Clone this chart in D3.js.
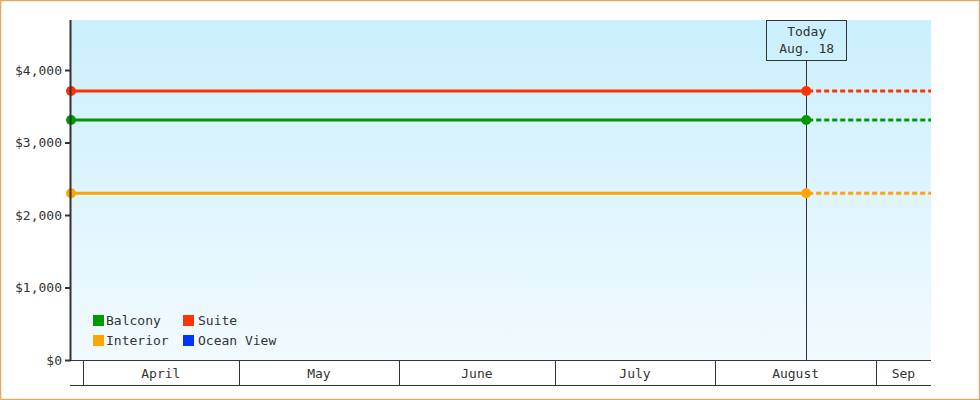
<!DOCTYPE html>
<html><head><meta charset="utf-8">
<script src="https://cdn.jsdelivr.net/npm/d3@7"></script>
<style>
html,body{margin:0;padding:0;background:#fff;}
svg{display:block;}
text{font-family:"DejaVu Sans Mono","Liberation Mono",monospace;font-size:13px;fill:#333;}
</style></head><body>
<svg id="chart" width="980" height="400"></svg>
<script>
// ---- data ----
const seriesNames = ["Balcony", "Suite", "Interior", "Ocean View"];
const seriesColors = ["#009900", "#ff3300", "#ffa500", "#0033ff"];
const seriesValues = [3310, 3710, 2300, null]; // price, constant over period
const startDate = "2010-03-29T16:00";
const todayDate = "2010-08-18T13:00";
const endDate = "2010-09-11T15:00";
const todayLabel = ["Today", "Aug. 18"];
const monthNames = ["April", "May", "June", "July", "August", "Sep"];
const monthStarts = ["2010-04-01", "2010-05-01", "2010-06-01", "2010-07-01", "2010-08-01", "2010-09-01"];
const yTicks = [0, 1000, 2000, 3000, 4000];
const yMax = 4690;

// ---- layout ----
const svg = d3.select("#chart");
const W = 980, H = 400;
const pL = 71, pR = 931, pT = 20, pB = 360;
const parse = d3.isoParse;

const x = d3.scaleTime().domain([parse(startDate), parse(endDate)]).range([pL, pR]);
const y = d3.scaleLinear().domain([0, yMax]).range([pB, pT]);

// border
svg.append("rect").attr("x", 0.5).attr("y", 0.5).attr("width", W - 1).attr("height", H - 1)
  .attr("fill", "#fff").attr("stroke", "#e8a860").attr("stroke-width", 1.5);

// gradient background
const defs = svg.append("defs");
const grad = defs.append("linearGradient").attr("id", "bg").attr("x1", 0).attr("y1", 0).attr("x2", 0).attr("y2", 1);
grad.append("stop").attr("offset", "0%").attr("stop-color", "#caeffd");
grad.append("stop").attr("offset", "100%").attr("stop-color", "#f2faff");
svg.append("rect").attr("x", pL).attr("y", pT).attr("width", pR - pL).attr("height", pB - pT)
  .attr("fill", "url(#bg)");

// y axis
const yAxis = d3.axisLeft(y).tickValues(yTicks).tickSize(6).tickPadding(3)
  .tickFormat(d => "$" + d3.format(",")(d));
const gy = svg.append("g").attr("transform", `translate(${pL},0)`).call(yAxis);
gy.select(".domain").remove();
gy.attr("font-family", null).attr("font-size", null);
gy.selectAll(".tick line").attr("stroke", "#333").attr("stroke-width", 2);
gy.selectAll(".tick text").attr("fill", "#333");

// x axis: month boxes
const xg = svg.append("g");
xg.append("line").attr("x1", pL - 1).attr("x2", pR).attr("y1", pB + 0.5).attr("y2", pB + 0.5)
  .attr("stroke", "#333").attr("stroke-width", 1);
xg.append("line").attr("x1", pL - 1).attr("x2", pR).attr("y1", 385.5).attr("y2", 385.5)
  .attr("stroke", "#333").attr("stroke-width", 1);
const monthData = monthStarts.map((s, i) => {
  const a = x(parse(s));
  const b = i < monthStarts.length - 1 ? x(parse(monthStarts[i + 1])) : pR;
  return { name: monthNames[i], a: a, b: Math.min(b, pR) };
});
xg.selectAll("line.div").data(monthData).join("line").attr("class", "div")
  .attr("x1", d => Math.round(d.a) + 0.5).attr("x2", d => Math.round(d.a) + 0.5)
  .attr("y1", pB).attr("y2", 385).attr("stroke", "#333");
xg.selectAll("text.m").data(monthData).join("text").attr("class", "m")
  .attr("x", d => (d.a + d.b) / 2).attr("y", 378).attr("text-anchor", "middle").text(d => d.name);

// today line
const tx = x(parse(todayDate));
svg.append("line").attr("x1", Math.round(tx) + 0.5).attr("x2", Math.round(tx) + 0.5)
  .attr("y1", 60).attr("y2", pB).attr("stroke", "#333").attr("stroke-width", 1);
svg.append("rect").attr("x", Math.round(tx) - 39.5).attr("y", 20.5).attr("width", 80).attr("height", 40)
  .attr("fill", "none").attr("stroke", "#333").attr("stroke-width", 1);
svg.selectAll("text.today").data(todayLabel).join("text").attr("class", "today")
  .attr("x", tx + 0.5).attr("y", (d, i) => 36 + i * 17).attr("text-anchor", "middle").text(d => d);

// series
const series = seriesNames.map((n, i) => ({ name: n, color: seriesColors[i], value: seriesValues[i] }))
  .filter(s => s.value !== null);
const lineGen = d3.line().x(d => x(d[0])).y(d => y(d[1]));
series.forEach(s => {
  const solid = [[parse(startDate), s.value], [parse(todayDate), s.value]];
  const dashed = [[parse(todayDate), s.value], [parse(endDate), s.value]];
  svg.append("path").datum(dashed).attr("d", lineGen).attr("fill", "none")
    .attr("stroke", s.color).attr("stroke-width", 3).attr("stroke-dasharray", "5,3")
    .attr("stroke-dashoffset", -2);
  svg.append("path").datum(solid).attr("d", lineGen).attr("fill", "none")
    .attr("stroke", s.color).attr("stroke-width", 3);
  svg.selectAll(null).data(solid).join("circle")
    .attr("cx", d => x(d[0])).attr("cy", d => y(d[1])).attr("r", 5).attr("fill", s.color);
});

// y axis line
svg.append("line").attr("x1", pL - 0.5).attr("x2", pL - 0.5).attr("y1", pT).attr("y2", pB + 1)
  .attr("stroke", "#333").attr("stroke-width", 2);

// legend
const legendPos = [[93, 315, 13], [183, 315, 15], [93, 335, 13], [183, 335, 15]];
const lg = svg.append("g");
seriesNames.forEach((n, i) => {
  const [lx, ly, off] = legendPos[i];
  lg.append("rect").attr("x", lx).attr("y", ly).attr("width", 11).attr("height", 11).attr("fill", seriesColors[i]);
  lg.append("text").attr("x", lx + off).attr("y", ly + 10).text(n);
});
</script>
</body></html>
